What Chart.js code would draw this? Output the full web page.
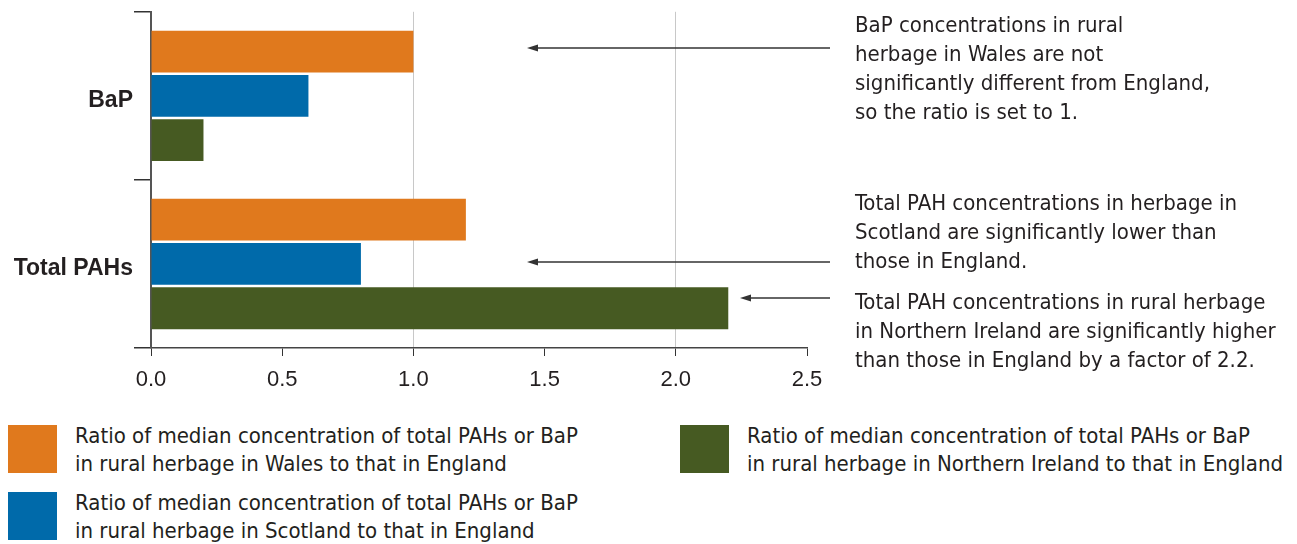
<!DOCTYPE html>
<html>
<head>
<meta charset="utf-8">
<script src="https://cdn.jsdelivr.net/npm/chart.js@4"></script>
<style>
  body { margin: 0; background: #fff; }
  #wrap { position: relative; width: 1297px; height: 544px; overflow: hidden;
          font-family: "Liberation Sans Narrow", "DejaVu Sans Condensed", sans-serif; color: #231f20; }
  #chart { position: absolute; left: 0; top: -3px; }
  .note { position: absolute; left: 855px; font-size: 22px; line-height: 29px; white-space: nowrap; }
  .key { position: absolute; width: 49px; height: 48px; }
  .keyText { position: absolute; font-size: 22px; line-height: 28px; white-space: nowrap; }
</style>
</head>
<body>
<div id="wrap">
  <canvas id="chart" width="1297" height="403"></canvas>
</div>
<script>
// --- DATA ---
const categories = ['BaP', 'Total PAHs'];
const walesRatio = [1.0, 1.2];
const scotlandRatio = [0.6, 0.8];
const niRatio = [0.2, 2.2];
const xTicks = [0, 0.5, 1.0, 1.5, 2.0, 2.5];

const seriesLabels = [
  'Ratio of median concentration of total PAHs or BaP\nin rural herbage in Wales to that in England',
  'Ratio of median concentration of total PAHs or BaP\nin rural herbage in Scotland to that in England',
  'Ratio of median concentration of total PAHs or BaP\nin rural herbage in Northern Ireland to that in England'
];
const seriesColors = ['#e0791d', '#006aaa', '#465a22'];

const notes = [
  'BaP concentrations in rural\nherbage in Wales are not\nsignificantly different from England,\nso the ratio is set to 1.',
  'Total PAH concentrations in herbage in\nScotland are significantly lower than\nthose in England.',
  'Total PAH concentrations in rural herbage\nin Northern Ireland are significantly higher\nthan those in England by a factor of 2.2.'
];

// --- LAYOUT (positions only, canvas coords) ---
const noteTops = [10, 188, 287];
const arrows = [ // [fromX, toX, y]
  [830, 527, 51],
  [830, 527, 265],
  [830, 740, 301]
];
const keyPos = [[8, 425], [8, 492], [680, 425]];

const wrap = document.getElementById('wrap');

notes.forEach((t, i) => {
  const d = document.createElement('div');
  d.className = 'note';
  d.style.top = noteTops[i] + 'px';
  d.innerHTML = t.split('\n').join('<br>');
  wrap.appendChild(d);
});

seriesLabels.forEach((t, i) => {
  const box = document.createElement('div');
  box.className = 'key';
  box.style.left = keyPos[i][0] + 'px';
  box.style.top = keyPos[i][1] + 'px';
  box.style.background = seriesColors[i];
  wrap.appendChild(box);
  const txt = document.createElement('div');
  txt.className = 'keyText';
  txt.style.left = (keyPos[i][0] + 67) + 'px';
  txt.style.top = (keyPos[i][1] - 3) + 'px';
  txt.innerHTML = t.split('\n').join('<br>');
  wrap.appendChild(txt);
});

// arrows drawn on top of the chart canvas
const arrowPlugin = {
  id: 'arrows',
  afterDraw(chart) {
    const c = chart.ctx;
    c.save();
    c.strokeStyle = '#333';
    c.fillStyle = '#333';
    c.lineWidth = 1.5;
    arrows.forEach(([x1, x2, y]) => {
      c.beginPath();
      c.moveTo(x1, y);
      c.lineTo(x2 + 6, y);
      c.stroke();
      c.beginPath();
      c.moveTo(x2, y);
      c.lineTo(x2 + 11, y - 3.5);
      c.lineTo(x2 + 11, y + 3.5);
      c.closePath();
      c.fill();
    });
    c.restore();
  }
};

const near = (v, t) => Math.abs(v - t) < 1e-6;

new Chart(document.getElementById('chart'), {
  type: 'bar',
  data: {
    labels: categories,
    datasets: [
      { label: seriesLabels[0], data: walesRatio, backgroundColor: seriesColors[0] },
      { label: seriesLabels[1], data: scotlandRatio, backgroundColor: seriesColors[1] },
      { label: seriesLabels[2], data: niRatio, backgroundColor: seriesColors[2] }
    ]
  },
  options: {
    indexAxis: 'y',
    responsive: false,
    animation: false,
    categoryPercentage: 0.79,
    barPercentage: 0.945,
    layout: { padding: { top: 3, right: 490, left: 0, bottom: 0 } },
    plugins: { legend: { display: false }, tooltip: { enabled: false } },
    scales: {
      x: {
        min: 0, max: 2.5,
        afterBuildTicks: (s) => { s.ticks = xTicks.map(v => ({ value: v })); },
        afterFit: (s) => { s.height = 52; },
        ticks: {
          callback: (v) => Number(v).toFixed(1),
          font: { family: '"Liberation Sans Narrow", sans-serif', size: 22 },
          color: '#231f20',
          padding: 11
        },
        grid: {
          color: (ctx) => (ctx.tick && (near(ctx.tick.value, 1) || near(ctx.tick.value, 2))) ? '#c8c8c8' : 'rgba(0,0,0,0)',
          tickColor: '#333',
          tickLength: 8,
          lineWidth: 1
        },
        border: { color: '#444', width: 1.5 }
      },
      y: {
        afterFit: (s) => { s.width = 151; },
        ticks: {
          font: { family: '"Liberation Sans Narrow", sans-serif', size: 23, weight: 'bold' },
          color: '#231f20',
          padding: 1,
          labelOffset: 5
        },
        grid: {
          drawOnChartArea: false,
          tickLength: 17,
          color: '#333',
          lineWidth: 1.5
        },
        border: { color: '#555', width: 2 }
      }
    }
  },
  plugins: [arrowPlugin]
});
</script>
</body>
</html>
